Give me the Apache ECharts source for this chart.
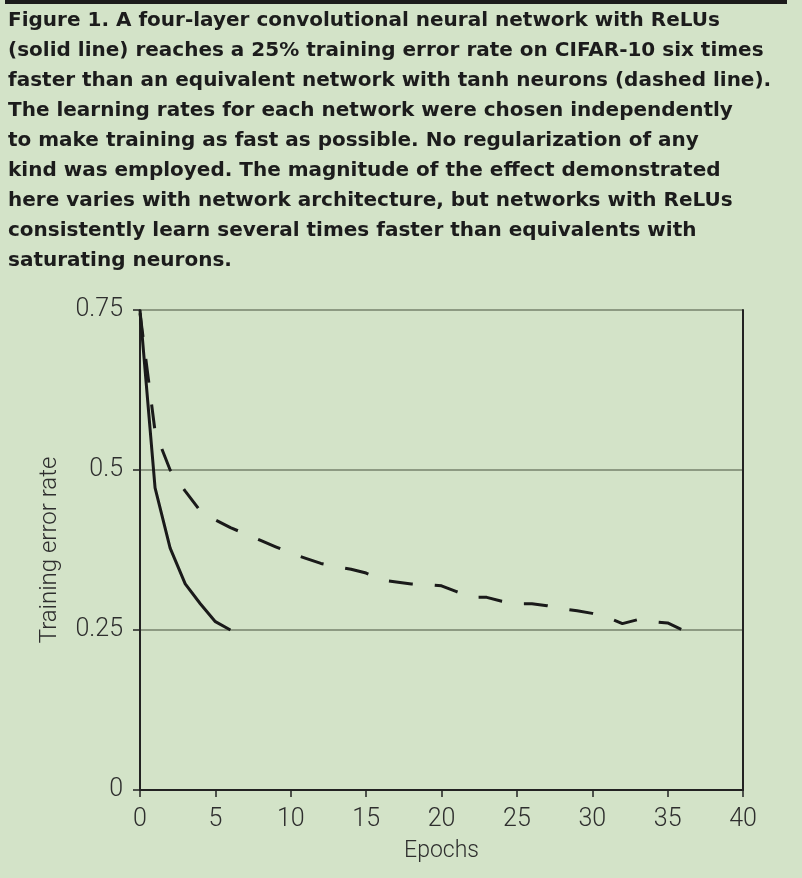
<!DOCTYPE html>
<html>
<head>
<meta charset="utf-8">
<script src="https://cdn.jsdelivr.net/npm/echarts@6/dist/echarts.min.js"></script>
<style>
html,body{margin:0;padding:0;background:#d3e3c8;}
#c{width:802px;height:878px;}
</style>
</head>
<body>
<div id="c"></div>
<script>
const captionLines = [
  "Figure 1. A four-layer convolutional neural network with ReLUs",
  "(solid line) reaches a 25% training error rate on CIFAR-10 six times",
  "faster than an equivalent network with tanh neurons (dashed line).",
  "The learning rates for each network were chosen independently",
  "to make training as fast as possible. No regularization of any",
  "kind was employed. The magnitude of the effect demonstrated",
  "here varies with network architecture, but networks with ReLUs",
  "consistently learn several times faster than equivalents with",
  "saturating neurons."
];
const reluEpochs = [0, 1, 2, 3, 4, 5, 6];
const reluError  = [0.75, 0.472, 0.378, 0.322, 0.291, 0.263, 0.25];
const tanhEpochs = [0, 1, 2, 3, 4, 5, 6, 7, 8, 9, 10, 11, 12, 13, 14, 15, 16, 17, 18, 19, 20, 21, 22, 23, 24, 25, 26, 27, 28, 29, 30, 31, 32, 33, 34, 35, 36];
const tanhError  = [0.745, 0.56, 0.50, 0.467, 0.436, 0.422, 0.41, 0.40, 0.39, 0.38, 0.37, 0.362, 0.354, 0.349, 0.345, 0.339, 0.328, 0.325, 0.322, 0.321, 0.319, 0.31, 0.301, 0.301, 0.295, 0.291, 0.291, 0.288, 0.283, 0.28, 0.276, 0.27, 0.26, 0.266, 0.263, 0.261, 0.25];
const xTicks = {min: 0, max: 40, interval: 5};
const yTicks = {min: 0, max: 0.75, interval: 0.25};

const chart = echarts.init(document.getElementById('c'));
const lblFont = 'Roboto';
chart.setOption({
  backgroundColor: '#d3e3c8',
  animation: false,
  graphic: [
    {type: 'rect', shape: {x: 5, y: 0, width: 782, height: 4}, style: {fill: '#1c1c1c'}},
    {type: 'text', left: 8, top: 6, style: {
      text: captionLines.join('\n'),
      font: 'bold 20px "DejaVu Sans"',
      lineHeight: 30,
      fill: '#1c1c1c'
    }}
  ],
  grid: {left: 140, right: 59, top: 310, bottom: 88},
  xAxis: {
    type: 'value', min: xTicks.min, max: xTicks.max, interval: xTicks.interval,
    name: 'Epochs', nameLocation: 'middle', nameGap: 50,
    nameTextStyle: {fontFamily: lblFont, fontWeight: 300, fontSize: 23, color: '#2e2e2e'},
    axisLine: {show: true, lineStyle: {color: '#222', width: 2}},
    axisTick: {show: true, length: 7, lineStyle: {color: '#222', width: 1.5}},
    axisLabel: {fontFamily: lblFont, fontWeight: 300, fontSize: 25, color: '#2e2e2e', margin: 17},
    splitLine: {show: false}
  },
  yAxis: [{
    type: 'value', min: yTicks.min, max: yTicks.max, interval: yTicks.interval,
    name: 'Training error rate', nameLocation: 'middle', nameGap: 78,
    nameTextStyle: {fontFamily: lblFont, fontWeight: 300, fontSize: 24, color: '#2e2e2e'},
    axisLine: {show: true, lineStyle: {color: '#222', width: 2}},
    axisTick: {show: true, length: 7, lineStyle: {color: '#222', width: 1.5}},
    axisLabel: {fontFamily: lblFont, fontWeight: 300, fontSize: 25, color: '#2e2e2e', margin: 17},
    splitLine: {show: true, lineStyle: {color: '#76826d', width: 1.5}}
  }, {
    type: 'value', position: 'right', min: yTicks.min, max: yTicks.max, interval: yTicks.interval,
    axisLine: {show: true, lineStyle: {color: '#222', width: 2}},
    axisTick: {show: false}, axisLabel: {show: false}, splitLine: {show: false}
  }],
  series: [
    {
      type: 'line', name: 'ReLU', symbol: 'none',
      data: reluEpochs.map((e, i) => [e, reluError[i]]),
      lineStyle: {color: '#1a1a1a', width: 3}
    },
    {
      type: 'line', name: 'tanh', symbol: 'none',
      data: tanhEpochs.map((e, i) => [e, tanhError[i]]),
      lineStyle: {color: '#1a1a1a', width: 3, type: [24, 22]}
    }
  ]
});
</script>
</body>
</html>
